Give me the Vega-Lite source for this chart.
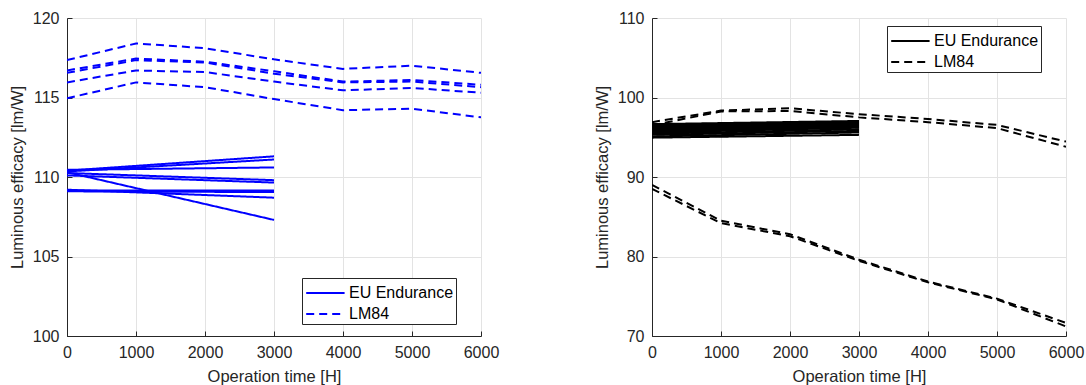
{
  "$schema": "https://vega.github.io/schema/vega-lite/v6.json",
  "padding": {"left": 9, "top": 10, "right": 5, "bottom": 5},
  "background": "white",
  "datasets": {
    "left": [
      {"id": "L1", "type": "LM84", "t": 0, "e": 117.35}, {"id": "L1", "type": "LM84", "t": 1000, "e": 118.4}, {"id": "L1", "type": "LM84", "t": 2000, "e": 118.1}, {"id": "L1", "type": "LM84", "t": 3000, "e": 117.4}, {"id": "L1", "type": "LM84", "t": 4000, "e": 116.8}, {"id": "L1", "type": "LM84", "t": 5000, "e": 117.0}, {"id": "L1", "type": "LM84", "t": 6000, "e": 116.55},
      {"id": "L2", "type": "LM84", "t": 0, "e": 116.7}, {"id": "L2", "type": "LM84", "t": 1000, "e": 117.45}, {"id": "L2", "type": "LM84", "t": 2000, "e": 117.25}, {"id": "L2", "type": "LM84", "t": 3000, "e": 116.65}, {"id": "L2", "type": "LM84", "t": 4000, "e": 116.0}, {"id": "L2", "type": "LM84", "t": 5000, "e": 116.1}, {"id": "L2", "type": "LM84", "t": 6000, "e": 115.8},
      {"id": "L3", "type": "LM84", "t": 0, "e": 116.55}, {"id": "L3", "type": "LM84", "t": 1000, "e": 117.35}, {"id": "L3", "type": "LM84", "t": 2000, "e": 117.2}, {"id": "L3", "type": "LM84", "t": 3000, "e": 116.5}, {"id": "L3", "type": "LM84", "t": 4000, "e": 115.95}, {"id": "L3", "type": "LM84", "t": 5000, "e": 116.0}, {"id": "L3", "type": "LM84", "t": 6000, "e": 115.65},
      {"id": "L4", "type": "LM84", "t": 0, "e": 115.95}, {"id": "L4", "type": "LM84", "t": 1000, "e": 116.7}, {"id": "L4", "type": "LM84", "t": 2000, "e": 116.6}, {"id": "L4", "type": "LM84", "t": 3000, "e": 116.0}, {"id": "L4", "type": "LM84", "t": 4000, "e": 115.45}, {"id": "L4", "type": "LM84", "t": 5000, "e": 115.6}, {"id": "L4", "type": "LM84", "t": 6000, "e": 115.3},
      {"id": "L5", "type": "LM84", "t": 0, "e": 114.95}, {"id": "L5", "type": "LM84", "t": 1000, "e": 115.95}, {"id": "L5", "type": "LM84", "t": 2000, "e": 115.65}, {"id": "L5", "type": "LM84", "t": 3000, "e": 114.9}, {"id": "L5", "type": "LM84", "t": 4000, "e": 114.2}, {"id": "L5", "type": "LM84", "t": 5000, "e": 114.3}, {"id": "L5", "type": "LM84", "t": 6000, "e": 113.75},
      {"id": "E1", "type": "EU Endurance", "t": 0, "e": 110.4}, {"id": "E1", "type": "EU Endurance", "t": 3000, "e": 111.3},
      {"id": "E2", "type": "EU Endurance", "t": 0, "e": 110.35}, {"id": "E2", "type": "EU Endurance", "t": 3000, "e": 111.1},
      {"id": "E3", "type": "EU Endurance", "t": 0, "e": 110.45}, {"id": "E3", "type": "EU Endurance", "t": 3000, "e": 110.6},
      {"id": "E4", "type": "EU Endurance", "t": 0, "e": 110.25}, {"id": "E4", "type": "EU Endurance", "t": 3000, "e": 109.8},
      {"id": "E5", "type": "EU Endurance", "t": 0, "e": 110.1}, {"id": "E5", "type": "EU Endurance", "t": 3000, "e": 109.65},
      {"id": "E6", "type": "EU Endurance", "t": 0, "e": 110.3}, {"id": "E6", "type": "EU Endurance", "t": 3000, "e": 107.3},
      {"id": "E7", "type": "EU Endurance", "t": 0, "e": 109.15}, {"id": "E7", "type": "EU Endurance", "t": 3000, "e": 109.15},
      {"id": "E8", "type": "EU Endurance", "t": 0, "e": 109.1}, {"id": "E8", "type": "EU Endurance", "t": 3000, "e": 109.05},
      {"id": "E9", "type": "EU Endurance", "t": 0, "e": 109.2}, {"id": "E9", "type": "EU Endurance", "t": 3000, "e": 108.7}
    ],
    "right": [
      {"id": "U1", "type": "LM84", "t": 0, "e": 96.9}, {"id": "U1", "type": "LM84", "t": 1000, "e": 98.35}, {"id": "U1", "type": "LM84", "t": 2000, "e": 98.65}, {"id": "U1", "type": "LM84", "t": 3000, "e": 97.9}, {"id": "U1", "type": "LM84", "t": 4000, "e": 97.3}, {"id": "U1", "type": "LM84", "t": 5000, "e": 96.55}, {"id": "U1", "type": "LM84", "t": 6000, "e": 94.45},
      {"id": "U2", "type": "LM84", "t": 0, "e": 96.5}, {"id": "U2", "type": "LM84", "t": 1000, "e": 98.25}, {"id": "U2", "type": "LM84", "t": 2000, "e": 98.3}, {"id": "U2", "type": "LM84", "t": 3000, "e": 97.5}, {"id": "U2", "type": "LM84", "t": 4000, "e": 96.9}, {"id": "U2", "type": "LM84", "t": 5000, "e": 96.15}, {"id": "U2", "type": "LM84", "t": 6000, "e": 93.8},
      {"id": "D1", "type": "LM84", "t": 0, "e": 89.0}, {"id": "D1", "type": "LM84", "t": 1000, "e": 84.5}, {"id": "D1", "type": "LM84", "t": 2000, "e": 82.8}, {"id": "D1", "type": "LM84", "t": 3000, "e": 79.6}, {"id": "D1", "type": "LM84", "t": 4000, "e": 76.85}, {"id": "D1", "type": "LM84", "t": 5000, "e": 74.7}, {"id": "D1", "type": "LM84", "t": 6000, "e": 71.65},
      {"id": "D2", "type": "LM84", "t": 0, "e": 88.5}, {"id": "D2", "type": "LM84", "t": 1000, "e": 84.2}, {"id": "D2", "type": "LM84", "t": 2000, "e": 82.55}, {"id": "D2", "type": "LM84", "t": 3000, "e": 79.45}, {"id": "D2", "type": "LM84", "t": 4000, "e": 76.75}, {"id": "D2", "type": "LM84", "t": 5000, "e": 74.6}, {"id": "D2", "type": "LM84", "t": 6000, "e": 71.2},
      {"id": "R1", "type": "EU Endurance", "t": 0, "e": 94.95}, {"id": "R1", "type": "EU Endurance", "t": 3000, "e": 95.3},
      {"id": "R2", "type": "EU Endurance", "t": 0, "e": 95.1}, {"id": "R2", "type": "EU Endurance", "t": 3000, "e": 95.6},
      {"id": "R3", "type": "EU Endurance", "t": 0, "e": 95.3}, {"id": "R3", "type": "EU Endurance", "t": 3000, "e": 95.8},
      {"id": "R4", "type": "EU Endurance", "t": 0, "e": 95.45}, {"id": "R4", "type": "EU Endurance", "t": 3000, "e": 96.0},
      {"id": "R5", "type": "EU Endurance", "t": 0, "e": 95.6}, {"id": "R5", "type": "EU Endurance", "t": 3000, "e": 96.2},
      {"id": "R6", "type": "EU Endurance", "t": 0, "e": 95.75}, {"id": "R6", "type": "EU Endurance", "t": 3000, "e": 96.35},
      {"id": "R7", "type": "EU Endurance", "t": 0, "e": 95.9}, {"id": "R7", "type": "EU Endurance", "t": 3000, "e": 96.5},
      {"id": "R8", "type": "EU Endurance", "t": 0, "e": 96.05}, {"id": "R8", "type": "EU Endurance", "t": 3000, "e": 96.6},
      {"id": "R9", "type": "EU Endurance", "t": 0, "e": 96.2}, {"id": "R9", "type": "EU Endurance", "t": 3000, "e": 96.75},
      {"id": "R10", "type": "EU Endurance", "t": 0, "e": 96.35}, {"id": "R10", "type": "EU Endurance", "t": 3000, "e": 96.85},
      {"id": "R11", "type": "EU Endurance", "t": 0, "e": 96.5}, {"id": "R11", "type": "EU Endurance", "t": 3000, "e": 96.95},
      {"id": "R12", "type": "EU Endurance", "t": 0, "e": 96.65}, {"id": "R12", "type": "EU Endurance", "t": 3000, "e": 97.05}
    ]
  },
  "config": {
    "font": "Liberation Sans",
    "view": {"stroke": null},
    "axis": {
      "domainColor": "#262626",
      "domainWidth": 1,
      "tickColor": "#262626",
      "tickSize": -5,
      "labelPadding": 13,
      "labelFontSize": 16,
      "labelColor": "#262626",
      "labelFlush": false,
      "labelOverlap": false,
      "titleFontSize": 16.5,
      "titleFontWeight": "normal",
      "titleColor": "#262626",
      "gridColor": "#e3e3e3",
      "gridWidth": 1
    },
    "legend": {
      "orient": "none",
      "strokeColor": "#262626",
      "fillColor": "white",
      "padding": 2,
      "labelFontSize": 16,
      "labelColor": "#000000",
      "symbolType": "M-0.9,0H2.3",
      "symbolSize": 576,
      "symbolStrokeWidth": 2,
      "rowPadding": -3,
      "labelOffset": 19
    }
  },
  "spacing": 171,
  "bounds": "flush",
  "resolve": {"scale": {"strokeDash": "independent", "y": "independent"}, "legend": {"strokeDash": "independent"}},
  "hconcat": [
    {
      "width": 414,
      "height": 318,
      "data": {"name": "left"},
      "mark": {"type": "line", "strokeWidth": 2, "color": "#0000ff", "clip": true},
      "encoding": {
        "x": {"field": "t", "type": "quantitative", "scale": {"domain": [0, 6000], "nice": false}, "axis": {"values": [0, 1000, 2000, 3000, 4000, 5000, 6000], "format": "d", "title": "Operation time [H]", "titlePadding": 8}},
        "y": {"field": "e", "type": "quantitative", "scale": {"domain": [100, 120], "nice": false, "zero": false}, "axis": {"values": [100, 105, 110, 115, 120], "title": "Luminous efficacy [lm/W]", "titlePadding": 7}},
        "strokeDash": {"field": "type", "type": "nominal", "scale": {"domain": ["EU Endurance", "LM84"], "range": [[1, 0], [8, 5]]}, "legend": {"title": null, "legendX": 235, "legendY": 260, "symbolStrokeColor": "#0000ff"}},
        "detail": {"field": "id"}
      }
    },
    {
      "width": 414,
      "height": 318,
      "data": {"name": "right"},
      "mark": {"type": "line", "strokeWidth": 2, "color": "#000000", "clip": true},
      "encoding": {
        "x": {"field": "t", "type": "quantitative", "scale": {"domain": [0, 6000], "nice": false}, "axis": {"values": [0, 1000, 2000, 3000, 4000, 5000, 6000], "format": "d", "title": "Operation time [H]", "titlePadding": 8}},
        "y": {"field": "e", "type": "quantitative", "scale": {"domain": [70, 110], "nice": false, "zero": false}, "axis": {"values": [70, 80, 90, 100, 110], "title": "Luminous efficacy [lm/W]", "titlePadding": 7}},
        "strokeDash": {"field": "type", "type": "nominal", "scale": {"domain": ["EU Endurance", "LM84"], "range": [[1, 0], [8, 5]]}, "legend": {"title": null, "legendX": 235, "legendY": 8, "symbolStrokeColor": "#000000"}},
        "detail": {"field": "id"}
      }
    }
  ]
}
